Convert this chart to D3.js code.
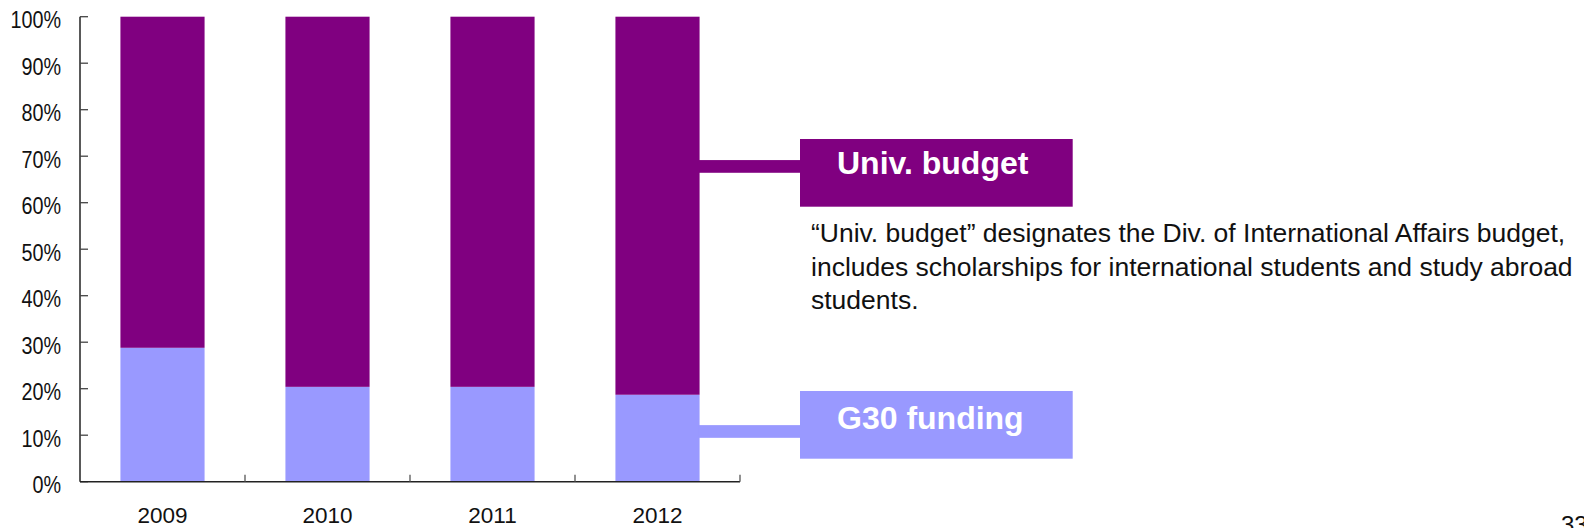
<!DOCTYPE html>
<html>
<head>
<meta charset="utf-8">
<script src="https://cdn.jsdelivr.net/npm/d3@7"></script>
<style>
  html, body { margin: 0; padding: 0; background: #fff; }
  svg { display: block; }
  text { font-family: "Liberation Sans", Arial, sans-serif; }
</style>
</head>
<body>
<svg id="chart" width="1584" height="528"></svg>
<script>
// ---- data ----
const years = ["2009", "2010", "2011", "2012"];
const g30Funding = [28.8, 20.4, 20.4, 18.7];     // % share
const univBudget = [71.2, 79.6, 79.6, 81.3];     // % share
const yTicks = [0, 10, 20, 30, 40, 50, 60, 70, 80, 90, 100];
const seriesNames = ["G30 funding", "Univ. budget"];
const seriesColors = ["#9999FF", "#800080"];
const noteLines = [
  "\u201CUniv. budget\u201D designates the Div. of International Affairs budget,",
  "includes scholarships for international students and study abroad",
  "students."
];
const pageNumber = "33";

// ---- layout ----
const svg = d3.select("#chart");
const plot = { left: 80, right: 740, top: 16.7, bottom: 481.7 };

const x = d3.scaleBand().domain(years).range([plot.left, plot.right]).paddingInner(0.49).paddingOuter(0.245);
const y = d3.scaleLinear().domain([0, 100]).range([plot.bottom, plot.top]);

const rows = years.map((yr, i) => ({ year: yr, g30: g30Funding[i], univ: univBudget[i] }));
const stack = d3.stack().keys(["g30", "univ"])(rows);

// bars
svg.append("g").selectAll("g").data(stack).join("g")
  .attr("fill", (d, i) => seriesColors[i])
  .selectAll("rect").data(d => d).join("rect")
  .attr("x", d => x(d.data.year))
  .attr("width", x.bandwidth())
  .attr("y", d => y(d[1]))
  .attr("height", d => y(d[0]) - y(d[1]));

// y axis
const yAxis = svg.append("g").attr("transform", `translate(${plot.left},0)`);
yAxis.append("line").attr("x1", 0).attr("x2", 0).attr("y1", y(100)).attr("y2", y(0))
  .attr("stroke", "#222").attr("stroke-width", 1.5);
yAxis.selectAll("line.tick").data(yTicks).join("line").attr("class", "tick")
  .attr("x1", 0).attr("x2", 8).attr("y1", d => y(d)).attr("y2", d => y(d))
  .attr("stroke", "#444").attr("stroke-width", 1.3);
yAxis.selectAll("text").data(yTicks).join("text")
  .attr("transform", d => `translate(-19,${y(d) + 11.5}) scale(0.86,1)`)
  .attr("text-anchor", "end").attr("font-size", 23).attr("fill", "#111")
  .text(d => d + "%");

// x axis
const xAxis = svg.append("g");
xAxis.append("line").attr("x1", plot.left).attr("x2", plot.right)
  .attr("y1", y(0)).attr("y2", y(0)).attr("stroke", "#222").attr("stroke-width", 1.5);
const step = (plot.right - plot.left) / years.length;
const bounds = d3.range(years.length + 1).map(i => plot.left + i * step);
xAxis.selectAll("line.tick").data(bounds.slice(1)).join("line").attr("class", "tick")
  .attr("x1", d => d).attr("x2", d => d).attr("y1", y(0)).attr("y2", y(0) - 7)
  .attr("stroke", "#555").attr("stroke-width", 1.3);
xAxis.selectAll("text").data(years).join("text")
  .attr("x", d => x(d) + x.bandwidth() / 2).attr("y", 523)
  .attr("text-anchor", "middle").attr("font-size", 22.5).attr("fill", "#111")
  .text(d => d);

// legend call-outs
const lastYear = years[years.length - 1];
const barRight = x(lastYear) + x.bandwidth();
const boxLeft = 800, boxWidth = 272.7, boxHeight = 67.7;
const callouts = [
  { name: seriesNames[1], color: seriesColors[1], lineVal: 67.8, boxTop: 139, textY: 174 },
  { name: seriesNames[0], color: seriesColors[0], lineVal: 10.8, boxTop: 391, textY: 429 }
];
const cg = svg.append("g");
callouts.forEach(c => {
  cg.append("rect").attr("x", barRight - 1).attr("width", boxLeft - barRight + 2)
    .attr("y", y(c.lineVal) - 6.35).attr("height", 12.7).attr("fill", c.color);
  cg.append("rect").attr("x", boxLeft).attr("y", c.boxTop)
    .attr("width", boxWidth).attr("height", boxHeight).attr("fill", c.color);
  cg.append("text").attr("x", 837).attr("y", c.textY)
    .attr("font-size", 32).attr("font-weight", "bold").attr("fill", "#fff")
    .text(c.name);
});

// note
svg.append("g").selectAll("text").data(noteLines).join("text")
  .attr("x", 811).attr("y", (d, i) => 242 + i * 33.5)
  .attr("font-size", 26.5).attr("fill", "#111")
  .text(d => d);

// page number
svg.append("text").attr("x", 1561).attr("y", 533).attr("font-size", 24).attr("fill", "#111").text(pageNumber);
</script>
</body>
</html>
